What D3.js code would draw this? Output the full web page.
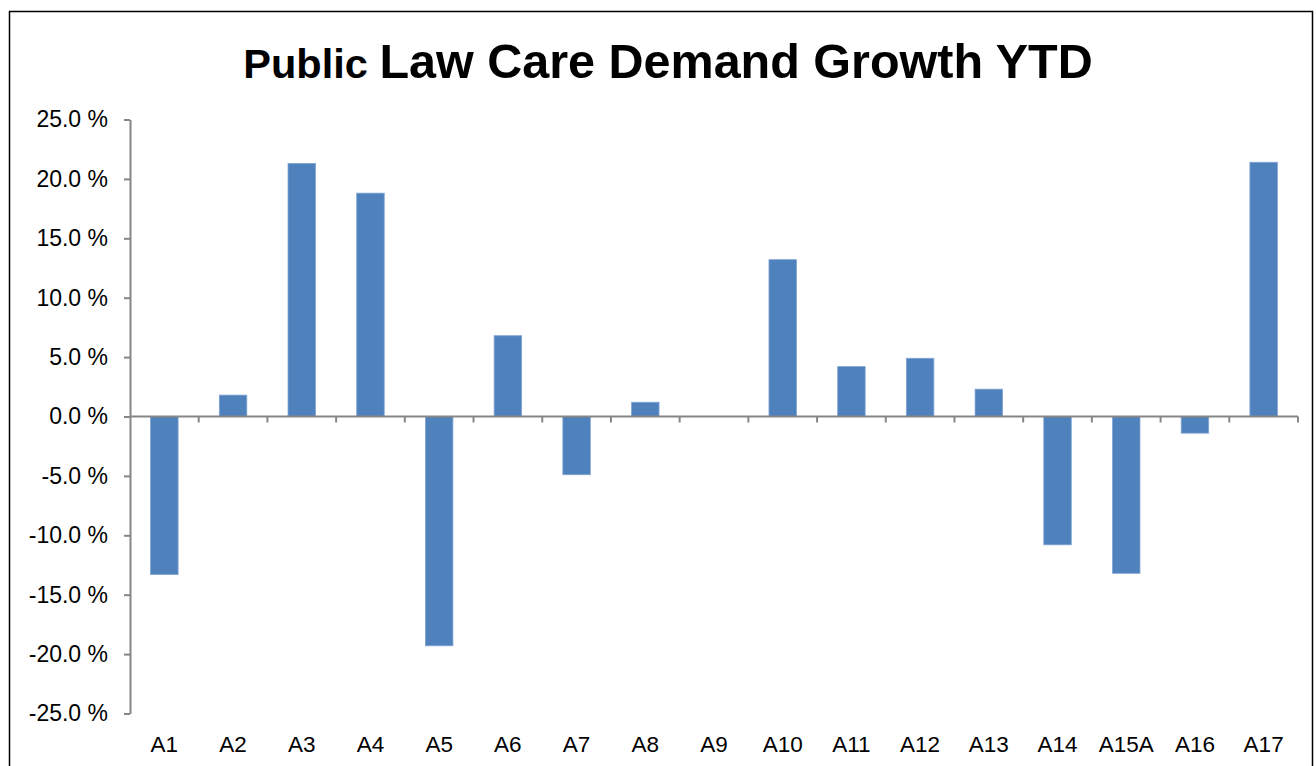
<!DOCTYPE html>
<html>
<head>
<meta charset="utf-8">
<script src="https://cdn.jsdelivr.net/npm/d3@7"></script>
<style>
  body { margin: 0; background: #fff; }
  text { font-family: "Liberation Sans", Arial, sans-serif; }
</style>
</head>
<body>
<div id="chart"></div>
<script>
var width = 1316;
var height = 766;

// data
var categories = ["A1","A2","A3","A4","A5","A6","A7","A8","A9","A10","A11","A12","A13","A14","A15A","A16","A17"];
var growth = [-13.3, 1.8, 21.3, 18.8, -19.3, 6.8, -4.9, 1.2, 0, 13.2, 4.2, 4.9, 2.3, -10.8, -13.2, -1.4, 21.4];
var yTicks = [-25, -20, -15, -10, -5, 0, 5, 10, 15, 20, 25];

var plotLeft = 130, plotRight = 1298;
var plotTop = 119.5, plotBottom = 713.5;
var axisGrey = "#868686";

var svg = d3.select("#chart").append("svg")
  .attr("width", width)
  .attr("height", height);

// outer frame
svg.append("rect")
  .attr("x", 9.5).attr("y", 11.5)
  .attr("width", 1303).attr("height", 800)
  .attr("fill", "none")
  .attr("stroke", "#000")
  .attr("stroke-width", 1.5);

// title, "Public" is set a bit smaller like the original
var title = svg.append("text")
  .attr("x", 668).attr("y", 78)
  .attr("text-anchor", "middle")
  .attr("font-weight", "bold")
  .attr("fill", "#000");
title.append("tspan").attr("font-size", "41.5px").text("Public ");
title.append("tspan").attr("font-size", "48.5px").text("Law Care Demand Growth YTD");

var x = d3.scaleBand()
  .domain(categories)
  .range([plotLeft, plotRight])
  .paddingInner(0.6)
  .paddingOuter(0.3);

var y = d3.scaleLinear()
  .domain([-25, 25])
  .range([plotBottom, plotTop]);

// bars
svg.append("g").selectAll("rect")
  .data(growth)
  .enter()
  .append("rect")
  .attr("x", function(d, i){ return x(categories[i]); })
  .attr("y", function(d){ return y(Math.max(0, d)); })
  .attr("width", x.bandwidth())
  .attr("height", function(d){ return Math.abs(y(d) - y(0)); })
  .attr("fill", "#4F81BD")
  .attr("stroke", "#7FA3D3")
  .attr("stroke-width", 0.8);

// y axis
var yAxis = svg.append("g")
  .attr("transform", "translate(" + plotLeft + ",0)")
  .call(d3.axisLeft(y)
    .tickValues(yTicks)
    .tickSize(6)
    .tickSizeOuter(0)
    .tickPadding(16)
    .tickFormat(function(d){ return d.toFixed(1) + " %"; }));
yAxis.select(".domain").attr("stroke", axisGrey).attr("stroke-width", 2);
yAxis.selectAll(".tick line").attr("stroke", axisGrey).attr("stroke-width", 2);
yAxis.selectAll(".tick text")
  .attr("font-size", "23px")
  .attr("fill", "#000")
  .attr("font-family", "Liberation Sans, Arial, sans-serif");

// x axis line at zero with tick marks between categories
var xAxis = svg.append("g");
xAxis.append("line")
  .attr("x1", plotLeft).attr("x2", plotRight)
  .attr("y1", y(0)).attr("y2", y(0))
  .attr("stroke", axisGrey).attr("stroke-width", 2);
var boundaries = d3.range(categories.length + 1).map(function(i){
  return plotLeft + i * x.step();
});
xAxis.selectAll("line.tick")
  .data(boundaries.slice(1))
  .enter()
  .append("line")
  .attr("class", "tick")
  .attr("x1", function(d){ return d; }).attr("x2", function(d){ return d; })
  .attr("y1", y(0)).attr("y2", y(0) + 6)
  .attr("stroke", axisGrey).attr("stroke-width", 2);

// category labels sit at the bottom of the plot
svg.append("g").selectAll("text")
  .data(categories)
  .enter()
  .append("text")
  .attr("x", function(d){ return x(d) + x.bandwidth() / 2; })
  .attr("y", 752)
  .attr("text-anchor", "middle")
  .attr("font-size", "22.5px")
  .attr("fill", "#000")
  .text(function(d){ return d; });
</script>
</body>
</html>
